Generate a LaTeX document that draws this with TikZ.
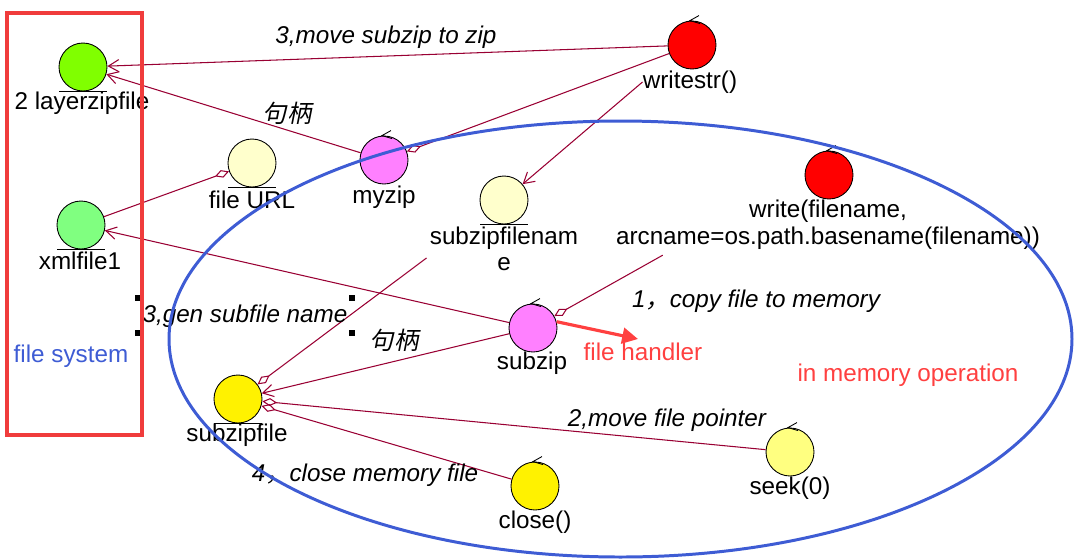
\documentclass[tikz,border=0pt]{standalone}
\usepackage{fontspec}
\setmainfont{Liberation Sans}
\newfontfamily\cjk[FakeSlant=0.2]{Noto Sans CJK SC}
\usepackage{tikz}
\usetikzlibrary{arrows.meta}
\definecolor{linkred}{RGB}{153,0,51}
\definecolor{memblue}{RGB}{62,92,212}
\definecolor{fsred}{RGB}{240,60,60}
\definecolor{notered}{RGB}{255,64,64}
\newcommand{\ctrlmark}[1]{\draw[line width=0.5pt] ([shift={(7,-5)}]#1.north) -- ([shift={(-2,0)}]#1.north) -- ([shift={(8,3)}]#1.north);}
\newcommand{\entline}[1]{\draw[line width=0.5pt] ([shift={(-24,0)}]#1.south) -- ([shift={(24,0)}]#1.south);}

\begin{document}
\begin{tikzpicture}[x=0.02cm,y=-0.02cm,
  obj/.style={circle,draw,line width=0.5pt,minimum size=0.96cm,inner sep=0pt},
  lbl/.style={font=\fontsize{13.8}{14.5}\selectfont,inner sep=0pt,align=center},
  msg/.style={font=\fontsize{13.8}{14.5}\selectfont\itshape,inner sep=0pt},
  dep/.style={draw=linkred,line width=0.6pt,-{Straight Barb[length=6pt,width=7pt]}},
  agg/.style={draw=linkred,line width=0.6pt,-{Diamond[open,length=8.5pt,width=4.5pt]}}]
\useasboundingbox (0,0) rectangle (1076,559);

\node[obj,fill={rgb,255:red,128;green,255;blue,0}] (layerzip) at (83,67) {};
\node[obj,fill={rgb,255:red,128;green,255;blue,128}] (xmlfile) at (81,225) {};
\node[obj,fill={rgb,255:red,255;green,255;blue,204}] (fileurl) at (252,163) {};
\node[obj,fill={rgb,255:red,255;green,128;blue,255}] (myzip) at (384,160) {};
\node[obj,fill=red] (writestr) at (692,45) {};
\node[obj,fill={rgb,255:red,255;green,255;blue,204}] (sfname) at (504,200) {};
\node[obj,fill=red] (write) at (829,175) {};
\node[obj,fill={rgb,255:red,255;green,128;blue,255}] (subzip) at (533,328) {};
\node[obj,fill=yellow] (subzipfile) at (238,399) {};
\node[obj,fill=yellow] (close) at (535,486) {};
\node[obj,fill={rgb,255:red,255;green,255;blue,128}] (seek) at (790,452) {};

\entline{layerzip}
\entline{xmlfile}
\entline{fileurl}
\entline{sfname}
\entline{subzipfile}
\ctrlmark{myzip}
\ctrlmark{writestr}
\ctrlmark{write}
\ctrlmark{subzip}
\ctrlmark{close}
\ctrlmark{seek}

\node[lbl] (layerziplbl) at (82,103) {2 layerzipfile};
\node[lbl] (xmlfilelbl) at (80,261) {xmlfile1};
\node[lbl] (fileurllbl) at (252,200) {file URL};
\node[lbl] (myziplbl) at (384,197) {myzip};
\node[lbl] (writestrlbl) at (690,82) {writestr()};
\node[lbl] (sfnamelbl) at (504,249) {subzipfilenam\\e};
\node[lbl,font=\fontsize{13.8}{15.4}\selectfont] (writelbl) at (828,225) {write(filename,\\arcname=os.path.basename(filename))};
\node[lbl] (subziplbl) at (532,363) {subzip};
\node[lbl] (subzipfilelbl) at (237,435) {subzipfile};
\node[lbl] (closelbl) at (535,522) {close()};
\node[lbl] (seeklbl) at (790,488) {seek(0)};

\draw[dep] (writestr) -- (layerzip);
\draw[dep] (myzip) -- (layerzip);
\draw[agg] (writestr) -- (myzip);
\draw[dep] (writestrlbl.west) -- (sfname);
\draw[agg] (xmlfile) -- (fileurl);
\draw[dep] (subzip) -- (xmlfile);
\draw[agg] ([shift={(-3,9)}]sfnamelbl.west) -- (subzipfile);
\draw[dep] (subzip) -- (subzipfile);
\draw[agg] (seek) -- (subzipfile);
\draw[agg] (close) -- (subzipfile);
\draw[agg] ([shift={(47,5)}]writelbl.south west) -- (subzip);

\coordinate (fhtip) at (638,339);
\draw[notered,line width=1.8pt,-{Triangle[length=9pt,width=9pt]}] (subzip.15) -- (fhtip);

\node[msg] (movemsg) at (386,37) {3,move subzip to zip};
\node[msg] (handlemsg) at (287,113) {\cjk 句柄};
\node[msg] (copymsg) at (756,301) {1{\cjk ，}copy file to memory};
\node[msg] (genmsg) at (245,316) {3,gen subfile name};
\node[msg] (handlemsgb) at (394,340) {\cjk 句柄};
\node[msg] (pointermsg) at (667,420) {2,move file pointer};
\node[msg] (closemsg) at (365,475) {4{\cjk ，}close memory file};

\foreach \p in {(138,298),(138,333),(352,298),(352,333)}
  \fill \p +(-3,-3) rectangle +(3,3);

\node[lbl,text=notered] (fhnote) at (643,352) {file handler};
\node[lbl,text=notered] (memnote) at (908,375) {in memory operation};
\node[lbl,text=memblue] (fsnote) at (71,356) {file system};

\draw[memblue,line width=1.7pt] (620.5,339) ellipse [x radius=451.5,y radius=218];
\draw[fsred,line width=2pt] (7,13) rectangle (142,435);
\end{tikzpicture}
\end{document}
